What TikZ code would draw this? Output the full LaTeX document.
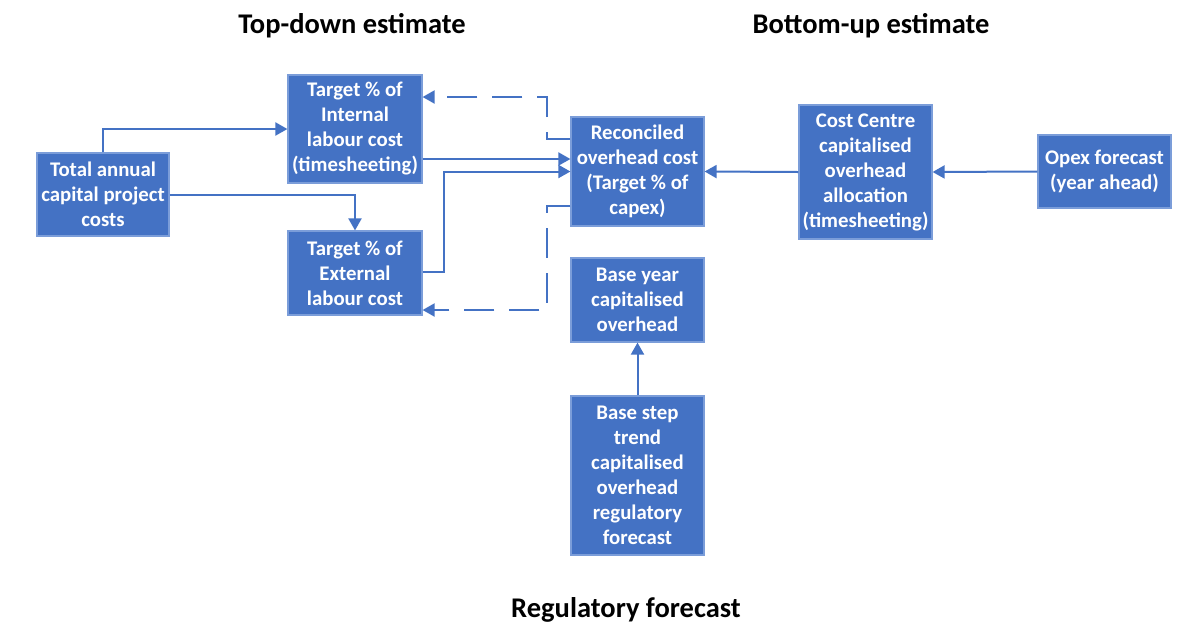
\documentclass[tikz,border=0pt]{standalone}
\usepackage{fontspec}
\setmainfont{Carlito}
\usetikzlibrary{arrows.meta}
\definecolor{boxblue}{HTML}{4472C4}
\definecolor{edgeblue}{HTML}{7B9DD9}
\begin{document}
\begin{tikzpicture}[x=1pt,y=-1pt,
 box/.style={rectangle, fill=boxblue, draw=edgeblue, line width=1.2pt, text=white, align=center, font=\bfseries\fontsize{20.8}{25}\selectfont, inner sep=0pt},
 conn/.style={draw=boxblue, line width=2pt, -{Triangle[length=12pt,width=13pt]}},
 dconn/.style={conn, dash pattern=on 30pt off 15pt},
 title/.style={font=\bfseries\fontsize{28.5}{34}\selectfont, text=black, anchor=base}]
\useasboundingbox[fill=white] (0,0) rectangle (1199,625);

\node[title] (td) at (352,33) {Top-down estimate};
\node[title] (bu) at (871,33) {Bottom-up estimate};
\node[title] (rf) at (626,617) {Regulatory forecast};

\node[box, minimum width=132pt, minimum height=83pt] (total) at (103,194.5) {Total annual\\capital project\\costs};
\node[box, minimum width=134pt, minimum height=108pt] (internal) at (355,129) {Target \% of\\Internal\\labour cost\\(timesheeting)};
\node[box, minimum width=134pt, minimum height=84pt] (external) at (355,273) {Target \% of\\External\\labour cost};
\node[box, minimum width=133pt, minimum height=109pt] (recon) at (637.5,171.5) {Reconciled\\overhead cost\\(Target \% of\\capex)};
\node[box, minimum width=133pt, minimum height=134pt] (costc) at (865.5,172) {Cost Centre\\capitalised\\overhead\\allocation\\(timesheeting)};
\node[box, minimum width=133pt, minimum height=73pt] (opex) at (1104.5,171.5) {Opex forecast\\(year ahead)};
\node[box, minimum width=133pt, minimum height=84pt] (baseyear) at (637.5,300) {Base year\\capitalised\\overhead};
\node[box, minimum width=133pt, minimum height=159pt] (basestep) at (637.5,475.5) {Base step\\trend\\capitalised\\overhead\\regulatory\\forecast};

\draw[conn] (total.north) |- (internal.west);
\draw[conn] (total.east) -| (external.north);
\draw[conn] ([yshift=-30pt]internal.east) -- ([yshift=12.5pt]recon.west);
\draw[conn] ([yshift=1pt]external.east) -- ++(21,0) |- (recon.west);
\draw[conn] (costc.west) -- (recon.east);
\draw[conn] (opex.west) -- (costc.east);
\draw[conn] (basestep.north) -- (baseyear.south);
\draw[dconn] ([yshift=32.5pt]recon.west) -- ++(-23,0) |- ([yshift=32pt]internal.east);
\draw[dconn] ([yshift=-34.5pt]recon.west) -- ++(-23,0) |- ([yshift=-37pt]external.east);
\end{tikzpicture}
\end{document}
